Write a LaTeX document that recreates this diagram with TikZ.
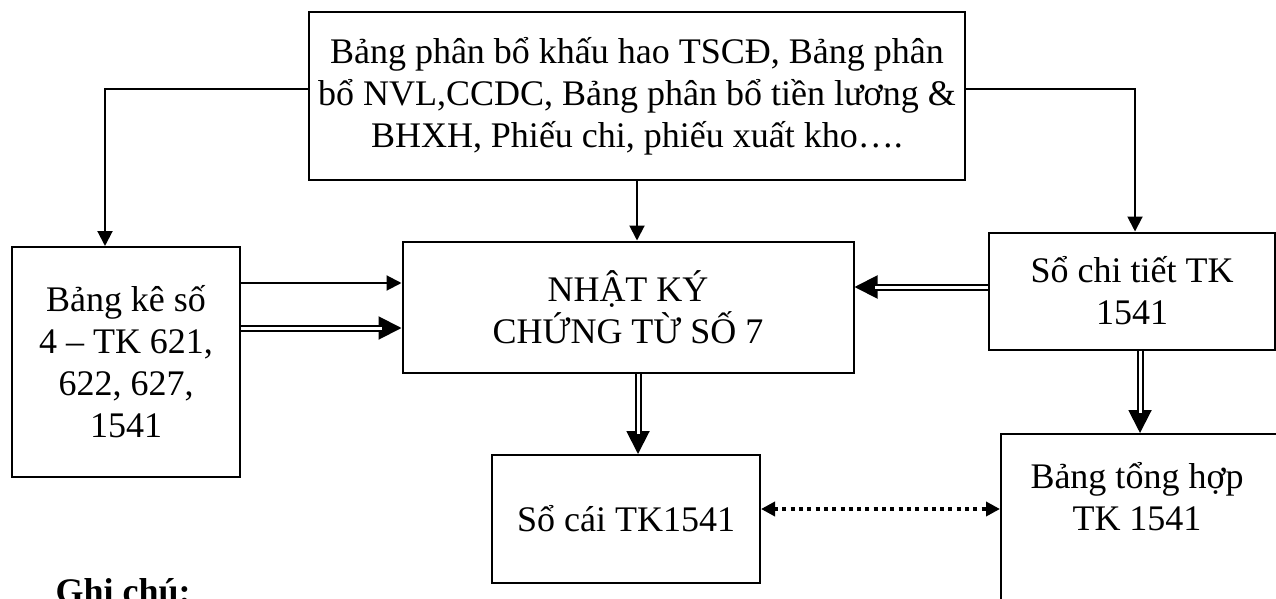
\documentclass[tikz,border=0pt]{standalone}
\usepackage{fontspec}
\setmainfont{Liberation Serif}
\usetikzlibrary{arrows.meta, positioning}

\tikzset{
  box/.style={draw, line width=2pt, align=center, font=\fontsize{36}{42}\selectfont},
  arr/.style={line width=2pt, -{Triangle[length=15pt,width=15pt]}},
  dblarr/.style={line width=2pt, -{Triangle[length=23pt,width=23pt]},
    postaction={draw, -, double, double distance=3pt, line width=2pt, shorten >=20pt}},
  dotarr/.style={line width=4pt, dash pattern=on 4pt off 4.3pt,
    {Triangle[length=14pt,width=14pt]}-{Triangle[length=14pt,width=14pt]}},
}

\begin{document}
\begin{tikzpicture}[x=1pt,y=-1pt]
\useasboundingbox (0,0) rectangle (1276,599);
\clip (0,0) rectangle (1276,599);

% boxes
\node[box, minimum width=656pt, minimum height=167pt] (top) at (637,96)
  {Bảng phân bổ khấu hao TSCĐ, Bảng phân\\ bổ NVL,CCDC, Bảng phân bổ tiền lương \&\\ BHXH, Phiếu chi, phiếu xuất kho….};
\node[box, minimum width=228pt, minimum height=230pt] (bks) at (126,362)
  {Bảng kê số\\ 4 – TK 621,\\ 622, 627,\\ 1541};
\node[box, minimum width=451pt, minimum height=131pt] (nk) at (628,307)
  {NHẬT KÝ\\ CHỨNG TỪ SỐ 7};
\node[box, minimum width=286pt, minimum height=117pt] (sct) at (1132,291)
  {Sổ chi tiết TK\\ 1541};
\node[box, minimum width=268pt, minimum height=128pt] (sc) at (626,519)
  {Sổ cái TK1541};
\node[box, minimum width=300pt, minimum height=250pt, anchor=north west] (bth) at (1000,433) {};
\node[font=\fontsize{36}{42}\selectfont, align=center] (bthtext) at (1137,497)
  {Bảng tổng hợp\\ TK 1541};

\node[anchor=base west, font=\fontsize{36}{42}\selectfont\bfseries] (note) at (52,603) {Ghi chú:};

% connectors
\draw[arr] ([yshift=7pt]top.west) -| ([xshift=-21pt]bks.north);
\draw[arr] (top.south) -- (top.south |- nk.north);
\draw[arr] ([yshift=7pt]top.east) -| ([xshift=3pt]sct.north);
\draw[arr] (bks.east |- 0,283) -- (nk.west |- 0,283);
\draw[dblarr] (bks.east |- 0,328) -- (nk.west |- 0,328);
\draw[dblarr] (sct.west |- 0,287) -- (nk.east |- 0,287);
\draw[dblarr] ([xshift=10pt]nk.south) -- ([xshift=10pt]nk.south |- sc.north);
\draw[dblarr] ([xshift=8pt]sct.south) -- ([xshift=8pt]sct.south |- bth.north);
\draw[dotarr] (sc.east |- 0,509) -- (bth.west |- 0,509);

\end{tikzpicture}
\end{document}
